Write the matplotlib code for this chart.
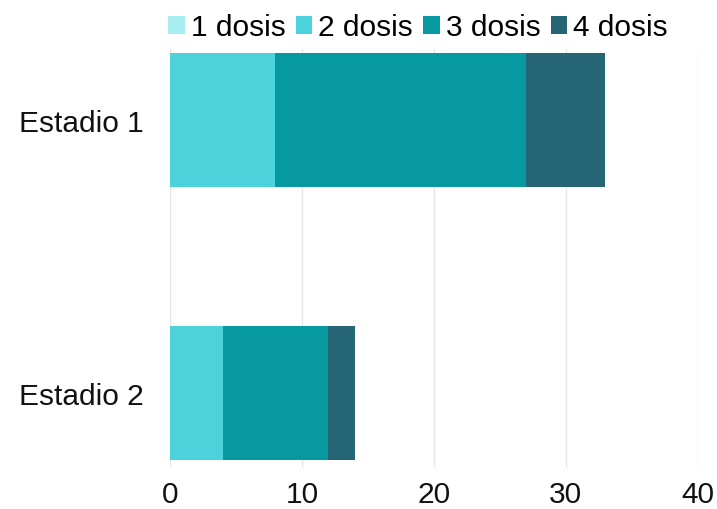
import numpy as np
import matplotlib.pyplot as plt

plt.rcParams['font.family'] = ['Liberation Sans', 'DejaVu Sans']

stages = ['Estadio 1', 'Estadio 2']
series = ['1 dosis', '2 dosis', '3 dosis', '4 dosis']
dosis_1 = [0, 0]
dosis_2 = [8, 4]
dosis_3 = [19, 8]
dosis_4 = [6, 2]
colors = ['#a8eef0', '#4bd2da', '#06999f', '#256574']

fig = plt.figure(figsize=(7.17, 5.10), dpi=100)
ax = fig.add_axes([0.237, 0.082, 0.736, 0.82])

y = np.arange(len(stages))
left = np.zeros(len(stages))
for name, vals, c in zip(series, [dosis_1, dosis_2, dosis_3, dosis_4], colors):
    ax.barh(y, vals, left=left, height=0.49, color=c, label=name, zorder=3)
    left += np.array(vals)

ax.set_xlim(0, 40)
ax.set_ylim(1.27, -0.26)
ax.set_xticks([0, 10, 20, 30, 40])
ax.set_yticks(y)
ax.set_yticklabels(stages)
ax.tick_params(axis='both', length=0, labelsize=21.5, colors='#111111')
ax.tick_params(axis='y', pad=19)
ax.tick_params(axis='x', pad=9)
ax.grid(axis='x', color='#e6e6e6', linewidth=1, zorder=0)
for s in ax.spines.values():
    s.set_visible(False)

fig.legend(loc='upper center', bbox_to_anchor=(0.583, 1.025), ncol=4, frameon=False,
           fontsize=21.5, handlelength=0.55, handleheight=0.55, handletextpad=0.2,
           columnspacing=0.35)

fig.savefig('out.png', dpi=100)
